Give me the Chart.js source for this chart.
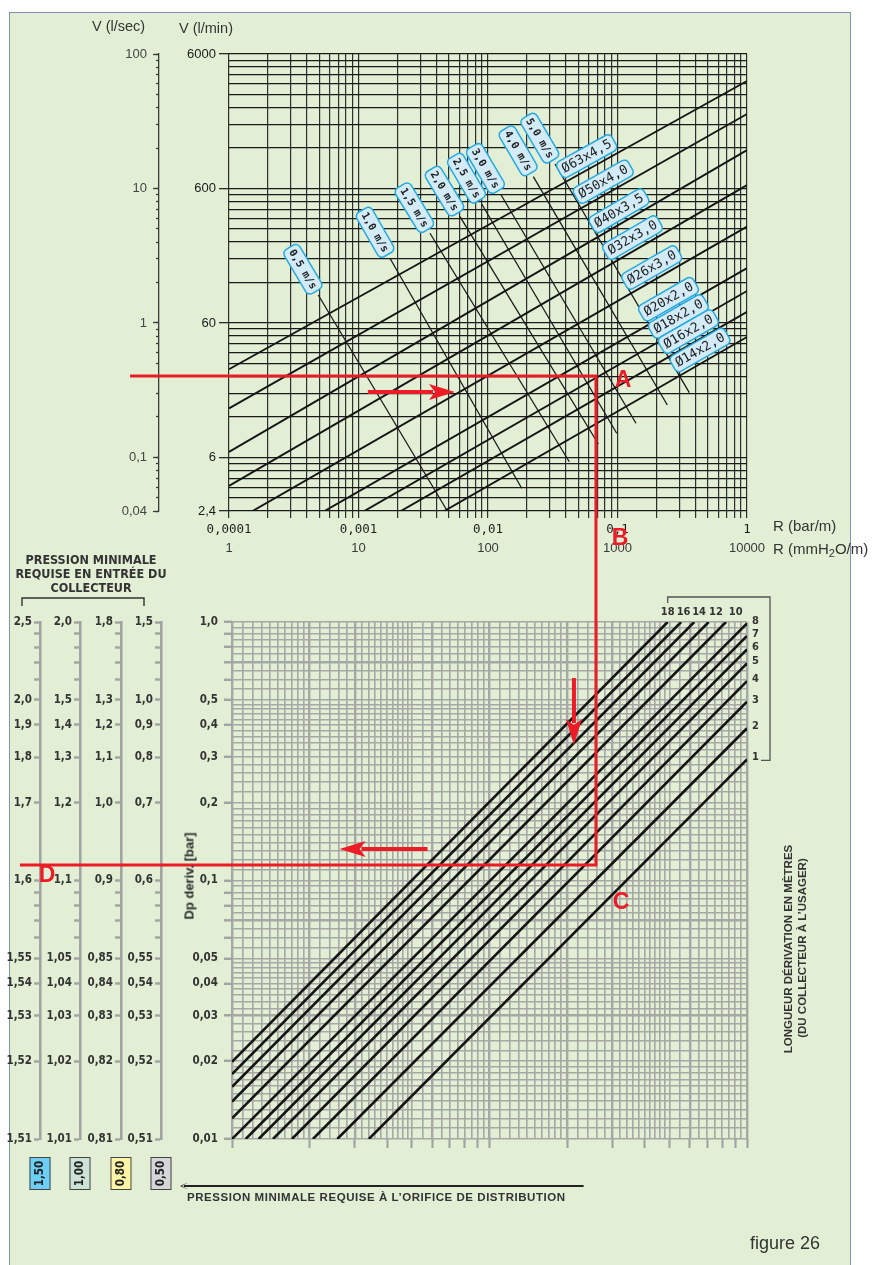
<!DOCTYPE html>
<html lang="fr">
<head>
<meta charset="utf-8">
<title>figure 26</title>
<script src="https://cdn.jsdelivr.net/npm/chart.js@4.4.1/dist/chart.umd.min.js"></script>
<style>
  html, body { margin:0; padding:0; background:#ffffff; }
  body { position:relative; width:877px; height:1265px; overflow:hidden;
         font-family:"Liberation Sans", Arial, sans-serif; color:#2b2b2b; }
  #panel { position:absolute; left:9px; top:12px; width:840px; height:1300px;
           background:#e2efd5; border:1.5px solid #7c94b7; border-bottom:none; }
  canvas { position:absolute; left:0; top:0; }
  .t { position:absolute; white-space:nowrap; line-height:1; }
  .b { font-weight:bold; }
  .narrow { font-family:"Liberation Sans Narrow","Arial Narrow","DejaVu Sans Condensed",sans-serif; font-weight:bold; }
  .rot { transform: translate(-50%,-50%) rotate(-90deg); text-align:center; }
  sub { font-size:11px; vertical-align:-3px; line-height:0; }
</style>
</head>
<body>
<div id="panel"></div>
<canvas id="flowChart" width="877" height="1265"></canvas>
<canvas id="branchChart" width="877" height="1265"></canvas>

<div class="t" style="left:92px;top:19px;font-size:14.5px;color:#333;">V (l/sec)</div>
<div class="t" style="left:179px;top:20.5px;font-size:14.5px;color:#333;">V (l/min)</div>
<div class="t" style="left:773px;top:518px;font-size:15px;color:#333;">R (bar/m)</div>
<div class="t" style="left:773px;top:541px;font-size:15px;color:#333;">R (mmH<sub>2</sub>O/m)</div>

<div class="t narrow" style="left:91px;top:553px;font-size:12.5px;line-height:14px;text-align:center;transform:translateX(-50%);color:#333;">PRESSION MINIMALE<br>REQUISE EN ENTRÉE DU<br>COLLECTEUR</div>

<div class="t b rot" style="left:189px;top:876px;font-size:13px;color:#2a2a2a;">Dp deriv. [bar]</div>
<div class="t b rot" style="left:789px;top:949px;font-size:11.5px;color:#333;">LONGUEUR DÉRIVATION EN MÈTRES</div>
<div class="t b rot" style="left:803px;top:948px;font-size:11.5px;color:#333;">(DU COLLECTEUR À L’USAGER)</div>

<div class="t b" style="left:187px;top:1192px;font-size:11.5px;letter-spacing:0.55px;color:#333;">PRESSION MINIMALE REQUISE À L’ORIFICE DE DISTRIBUTION</div>
<div class="t" style="left:750px;top:1234px;font-size:18px;color:#333;">figure 26</div>

<script>
// ---------- Pipe friction chart: flow V vs. unit pressure loss R ----------
// Pipe sizes, flow in l/s read at R = 0.0001 bar/m and at R = 1 bar/m
const pipeNames      = ['Ø63x4,5', 'Ø50x4,0', 'Ø40x3,5', 'Ø32x3,0', 'Ø26x3,0', 'Ø20x2,0', 'Ø18x2,0', 'Ø16x2,0', 'Ø14x2,0'];
const pipeFlowAtRmin = [0.453, 0.232, 0.110, 0.0614, 0.0317, 0.0156, 0.01055, 0.00735, 0.0048];
const pipeFlowAtRmax = [63.0, 35.8, 19.3, 10.6, 5.20, 2.56, 1.73, 1.21, 0.787];
const pipeRange      = [0.0001, 1];
// R value (bar/m) where each pipe name tag sits
const pipeTagAt      = [0.0578, 0.0776, 0.1027, 0.1306, 0.1837, 0.2476, 0.2949, 0.3524, 0.4335];

// Water velocity lines: start / end points (R in bar/m, V in l/s)
const velocityNames = ['0,5 m/s', '1,0 m/s', '1,5 m/s', '2,0 m/s', '2,5 m/s', '3,0 m/s', '4,0 m/s', '5,0 m/s'];
const velStartR = [0.000489, 0.00175, 0.003565, 0.00608, 0.00894, 0.01253, 0.02238, 0.03292];
const velStartQ = [1.615, 3.027, 4.645, 6.17, 7.67, 9.06, 12.24, 15.21];
const velEndR   = [0.0048, 0.0182, 0.04244, 0.0711, 0.0986, 0.1389, 0.2425, 0.3584];
const velEndQ   = [0.0407, 0.0590, 0.0930, 0.126, 0.1513, 0.1796, 0.2457, 0.3032];

const flowTicksMajor       = [0.04, 0.1, 1, 10, 100];          // l/s (x60 = l/min)
const resistanceTicksMajor = [0.0001, 0.001, 0.01, 0.1, 1];    // bar/m (x10000 = mmH2O/m)

// ---------- Branch pressure drop chart ----------
// Branch length (m); each line given by two points (flow, Dp in bar)
const branchLengths = [18, 16, 14, 12, 10, 8, 7, 6, 5, 4, 3, 2, 1];
const branchStartQ  = [1, 1, 1, 1, 1, 1, 1.130, 1.269, 1.443, 1.709, 2.062, 2.564, 3.401];
const branchStartDp = [0.0199, 0.01784, 0.01593, 0.01394, 0.01202, 0.01, 0.01, 0.01, 0.01, 0.01, 0.01, 0.01, 0.01];
const branchEndQ    = [49.2, 55.5, 62.4, 71.0, 82.9, 100, 100, 100, 100, 100, 100, 100, 100];
const branchEndDp   = [1, 1, 1, 1, 1, 0.9885, 0.883, 0.784, 0.692, 0.591, 0.4916, 0.388, 0.2943];

const dpTicksMajor = [1, 0.5, 0.4, 0.3, 0.2, 0.1, 0.05, 0.04, 0.03, 0.02, 0.01];
const dpTicksMinor = [0.9, 0.8, 0.7, 0.6, 0.09, 0.08, 0.07, 0.06];
// Minimum pressure at the distribution outlet (bar) for each inlet scale
const outletPressures = [1.5, 1.0, 0.8, 0.5];
const outletColors    = ['#6dcff6', '#cde3d8', '#fff4a6', '#d5d6d8'];

// Worked example traced in red
const exampleFlow = 0.404;   // l/s
const exampleR    = 0.0682;  // bar/m
const exampleDp   = 0.1148;  // bar

// ---------- helpers ----------
const NARROW = '"Liberation Sans Narrow","Arial Narrow","DejaVu Sans Condensed",sans-serif';
const SANS   = '"Liberation Sans", Arial, sans-serif';
const MONO   = '"DejaVu Sans Mono","Liberation Mono",monospace';
const RED    = '#ec1c26';

const comma = v => String(v).replace('.', ',');
const near  = (a, b) => Math.abs(a - b) <= Math.abs(b) * 1e-6;
const inList = (v, list) => list.some(t => near(v, t));

// k x 10^n subdivisions (k = 1..9) inside [min, max]
function logGrid(min, max) {
  const out = [];
  for (let e = Math.floor(Math.log10(min)); e <= Math.ceil(Math.log10(max)); e++) {
    for (let k = 1; k <= 9; k++) {
      const v = parseFloat((k * Math.pow(10, e)).toPrecision(4));
      if (v >= min * 0.9999 && v <= max * 1.0001 && !out.some(o => near(o, v))) out.push(v);
    }
  }
  return out;
}
// finer subdivisions for the millimetre-style grid
function denseGrid(min, max) {
  const out = [];
  const steps = [[1, 2, 0.1], [2, 5, 0.2], [5, 10, 0.5]];
  for (let e = Math.floor(Math.log10(min)); e <= Math.ceil(Math.log10(max)); e++) {
    const base = Math.pow(10, e);
    for (const [a, b, s] of steps) {
      for (let k = a; k < b - 1e-9; k += s) {
        const v = parseFloat((k * base).toPrecision(4));
        if (v >= min * 0.9999 && v <= max * 1.0001 && !out.some(o => near(o, v))) out.push(v);
      }
    }
  }
  return out;
}
const asTicks = list => s => { s.ticks = list.map(v => ({ value: v })); };
const mantissa = v => v / Math.pow(10, Math.floor(Math.log10(v) + 1e-9));

function roundRect(ctx, x, y, w, h, r) {
  ctx.beginPath();
  ctx.moveTo(x + r, y);
  ctx.arcTo(x + w, y, x + w, y + h, r);
  ctx.arcTo(x + w, y + h, x, y + h, r);
  ctx.arcTo(x, y + h, x, y, r);
  ctx.arcTo(x, y, x + w, y, r);
  ctx.closePath();
}
function drawTag(ctx, cx, cy, angle, text, font, h, pad) {
  ctx.save();
  ctx.translate(cx, cy);
  ctx.rotate(angle);
  ctx.font = font;
  const w = ctx.measureText(text).width + pad;
  roundRect(ctx, -w / 2, -h / 2, w, h, 5);
  ctx.fillStyle = '#d2ebf6';
  ctx.fill();
  ctx.lineWidth = 1.5;
  ctx.strokeStyle = '#26a9e0';
  ctx.stroke();
  ctx.fillStyle = '#1d1d1d';
  ctx.textAlign = 'center';
  ctx.textBaseline = 'middle';
  ctx.fillText(text, 0, 0.5);
  ctx.restore();
}
function drawArrow(ctx, x0, y0, x1, y1, color, width, head, half) {
  const a = Math.atan2(y1 - y0, x1 - x0), c = Math.cos(a), s = Math.sin(a);
  ctx.save();
  ctx.strokeStyle = color; ctx.fillStyle = color; ctx.lineWidth = width;
  ctx.beginPath();
  ctx.moveTo(x0, y0);
  ctx.lineTo(x1 - (head - 4) * c, y1 - (head - 4) * s);
  ctx.stroke();
  ctx.beginPath();
  ctx.moveTo(x1, y1);
  ctx.lineTo(x1 - head * c - half * s, y1 - head * s + half * c);
  ctx.lineTo(x1 - (head - 6) * c, y1 - (head - 6) * s);
  ctx.lineTo(x1 - head * c + half * s, y1 - head * s - half * c);
  ctx.closePath();
  ctx.fill();
  ctx.restore();
}

// ---------- upper chart ----------
const flowGrid = logGrid(0.04, 100);
const rGrid    = logGrid(0.0001, 1);

const pipeDatasets = pipeNames.map((name, i) => ({
  label: name,
  data: [{ x: pipeRange[0], y: pipeFlowAtRmin[i] }, { x: pipeRange[1], y: pipeFlowAtRmax[i] }],
  borderColor: '#151515', borderWidth: 1.9, pointRadius: 0, tension: 0
}));
const velocityDatasets = velocityNames.map((name, i) => ({
  label: name,
  data: [{ x: velStartR[i], y: velStartQ[i] }, { x: velEndR[i], y: velEndQ[i] }],
  borderColor: '#1a1a1a', borderWidth: 1.3, pointRadius: 0, tension: 0
}));

const tagPlugin = {
  id: 'lineTags',
  afterDatasetsDraw(chart) {
    const { ctx, scales: { x, y } } = chart;
    pipeNames.forEach((name, i) => {
      const x0 = x.getPixelForValue(pipeRange[0]), y0 = y.getPixelForValue(pipeFlowAtRmin[i]);
      const x1 = x.getPixelForValue(pipeRange[1]), y1 = y.getPixelForValue(pipeFlowAtRmax[i]);
      const px = x.getPixelForValue(pipeTagAt[i]);
      const py = y0 + (y1 - y0) * (px - x0) / (x1 - x0);
      drawTag(ctx, px, py - 14, Math.atan2(y1 - y0, x1 - x0), name, '13px ' + MONO, 18, 8);
    });
    velocityNames.forEach((name, i) => {
      const sx = x.getPixelForValue(velStartR[i]), sy = y.getPixelForValue(velStartQ[i]);
      const ex = x.getPixelForValue(velEndR[i]),   ey = y.getPixelForValue(velEndQ[i]);
      const len = Math.hypot(ex - sx, ey - sy), dx = (ex - sx) / len, dy = (ey - sy) / len;
      drawTag(ctx, sx - 30 * dx, sy - 30 * dy, Math.atan2(dy, dx), name, 'bold 10.5px ' + MONO, 18, 7);
    });
  }
};

const flowChart = new Chart(document.getElementById('flowChart'), {
  type: 'line',
  data: { datasets: [...pipeDatasets, ...velocityDatasets] },
  options: {
    responsive: false, animation: false, events: [], devicePixelRatio: 1,
    layout: { padding: { left: 0, top: 54, right: 130, bottom: 710 } },
    plugins: { legend: { display: false }, tooltip: { enabled: false } },
    scales: {
      x: {
        type: 'logarithmic', position: 'bottom', min: 0.0001, max: 1, weight: 0,
        afterBuildTicks: asTicks(rGrid),
        afterFit: s => { s.height = 24; },
        grid: { color: '#2e2e2e', lineWidth: 1.2, drawTicks: true, tickLength: 7, tickColor: '#2e2e2e', tickWidth: 1.2 },
        border: { display: false },
        ticks: { autoSkip: false, minRotation: 0, maxRotation: 0, padding: 4, color: '#1e1e1e',
                 font: { family: MONO, size: 12.5 },
                 callback: v => inList(v, resistanceTicksMajor) ? comma(v) : '' }
      },
      x2: {
        type: 'logarithmic', position: 'bottom', min: 0.0001, max: 1, weight: 1,
        afterBuildTicks: asTicks(resistanceTicksMajor),
        afterFit: s => { s.height = 20; },
        grid: { display: false, drawOnChartArea: false, drawTicks: false },
        border: { display: false },
        ticks: { autoSkip: false, minRotation: 0, maxRotation: 0, padding: 6, color: '#3a3a3a',
                 font: { family: SANS, size: 13 },
                 callback: v => String(Math.round(v * 10000)) }
      },
      yLs: {
        type: 'logarithmic', position: 'left', min: 0.04, max: 100, weight: 3,
        afterBuildTicks: asTicks(flowTicksMajor),
        afterFit: s => { s.width = 159; },
        grid: { drawOnChartArea: false, drawTicks: true, tickLength: 6, tickColor: '#3a3a3a', tickWidth: 1.3 },
        border: { display: true, color: '#3a3a3a', width: 1.3 },
        ticks: { autoSkip: false, padding: 6, color: '#444', font: { family: SANS, size: 13 },
                 callback: v => comma(v) }
      },
      yLsMinor: {
        type: 'logarithmic', position: 'left', min: 0.04, max: 100, weight: 2,
        afterBuildTicks: asTicks(flowGrid),
        afterFit: s => { s.width = 0; },
        grid: { drawOnChartArea: false, drawTicks: true, tickLength: 3, tickColor: '#3a3a3a', tickWidth: 1.3 },
        border: { display: false },
        ticks: { display: false, autoSkip: false }
      },
      y: {
        type: 'logarithmic', position: 'left', min: 0.04, max: 100, weight: 1,
        afterBuildTicks: asTicks(flowGrid),
        afterFit: s => { s.width = 70; },
        grid: { color: '#1a1a1a', lineWidth: 1.3, drawTicks: true, tickLength: 10, tickWidth: 1.3,
                tickColor: c => inList(c.tick.value, flowTicksMajor) ? '#2a2a2a' : 'rgba(0,0,0,0)' },
        border: { display: false },
        ticks: { autoSkip: false, padding: 3, color: '#1a1a1a', font: { family: SANS, size: 13 },
                 callback: v => inList(v, flowTicksMajor) ? comma(parseFloat((v * 60).toPrecision(6))) : '' }
      }
    }
  },
  plugins: [tagPlugin]
});

// ---------- lower chart ----------
const dpGrid   = denseGrid(0.01, 1);
const qGrid    = denseGrid(1, 100);
const qMarks   = logGrid(1, 100);
const dpMarked = [...dpTicksMajor, ...dpTicksMinor];
const GRID_GRAY = '#a6a8a5';

function outletAxis(base, weight, width) {
  return {
    type: 'logarithmic', position: 'left', min: 0.01, max: 1, weight,
    afterBuildTicks: asTicks(dpMarked),
    afterFit: s => { s.width = width; },
    grid: { drawOnChartArea: false, drawTicks: true, tickLength: 6, tickColor: '#a2a3a2', tickWidth: 2.4 },
    border: { display: true, color: '#a2a3a2', width: 2.6 },
    ticks: { autoSkip: false, padding: 2, color: '#333',
             font: { family: NARROW, size: 11.5, weight: 'bold' },
             callback: v => inList(v, dpTicksMajor) ? comma((base + v).toFixed(v < 0.099 ? 2 : 1)) : '' }
  };
}

const branchDatasets = branchLengths.map((L, i) => ({
  label: L + ' m',
  data: [{ x: branchStartQ[i], y: branchStartDp[i] }, { x: branchEndQ[i], y: branchEndDp[i] }],
  borderColor: '#141414', borderWidth: 2.6, pointRadius: 0, tension: 0
}));

const notesPlugin = {
  id: 'notes',
  afterDraw(chart) {
    const { ctx, chartArea: area, scales } = chart;
    const { x, y } = scales;
    ctx.save();

    // branch length numbers
    ctx.font = 'bold 11px ' + NARROW;
    ctx.fillStyle = '#333';
    ctx.textBaseline = 'middle';
    let firstTopX = null, lastRightY = null;
    branchLengths.forEach((L, i) => {
      const ex = x.getPixelForValue(branchEndQ[i]), ey = y.getPixelForValue(branchEndDp[i]);
      if (branchEndQ[i] < 99) {
        const lx = ex + (18 - L) * 1.2;
        ctx.textAlign = 'center';
        ctx.fillText(String(L), lx, area.top - 9.5);
        if (firstTopX === null) firstTopX = lx;
      } else {
        ctx.textAlign = 'left';
        ctx.fillText(String(L), area.right + 5, ey - 2);
        lastRightY = ey - 2;
      }
    });
    // bracket grouping the length numbers
    ctx.strokeStyle = '#555'; ctx.lineWidth = 1.3;
    ctx.beginPath();
    ctx.moveTo(firstTopX, area.top - 19);
    ctx.lineTo(firstTopX, area.top - 25);
    ctx.lineTo(area.right + 23, area.top - 25);
    ctx.lineTo(area.right + 23, lastRightY + 3);
    ctx.lineTo(area.right + 14, lastRightY + 3);
    ctx.stroke();

    // bracket over the inlet pressure scales
    const s15 = scales.yP15, s05 = scales.yP05;
    ctx.strokeStyle = '#333'; ctx.lineWidth = 1.4;
    ctx.beginPath();
    ctx.moveTo(s15.left + 22, area.top - 16);
    ctx.lineTo(s15.left + 22, area.top - 24);
    ctx.lineTo(s05.right - 17, area.top - 24);
    ctx.lineTo(s05.right - 17, area.top - 16);
    ctx.stroke();

    // outlet pressure boxes under each scale
    ['yP15', 'yP10', 'yP08', 'yP05'].forEach((id, i) => {
      const cx = scales[id].right, top = area.bottom + 18, w = 21, h = 33;
      ctx.fillStyle = outletColors[i];
      ctx.fillRect(cx - w / 2, top, w, h);
      ctx.strokeStyle = '#444'; ctx.lineWidth = 1;
      ctx.strokeRect(cx - w / 2 + 0.5, top + 0.5, w - 1, h - 1);
      ctx.save();
      ctx.translate(cx, top + h / 2);
      ctx.rotate(-Math.PI / 2);
      ctx.font = 'bold 11.5px ' + NARROW;
      ctx.fillStyle = '#222'; ctx.textAlign = 'center'; ctx.textBaseline = 'middle';
      ctx.fillText(outletPressures[i].toFixed(2).replace('.', ','), 0, 0.5);
      ctx.restore();
    });

    // arrow under the chart pointing to the outlet pressures
    drawArrow(ctx, x.getPixelForValue(23.2), area.bottom + 47, area.left - 52, area.bottom + 47, '#222', 2, 8, 3.5);

    // worked example
    const fx = flowChart.scales.x, fy = flowChart.scales.y;
    const xR = fx.getPixelForValue(exampleR);
    const yQ = fy.getPixelForValue(exampleFlow);
    const yD = y.getPixelForValue(exampleDp);
    ctx.strokeStyle = RED; ctx.lineWidth = 3; ctx.lineJoin = 'miter';
    ctx.beginPath();
    ctx.moveTo(flowChart.chartArea.left - 99, yQ);
    ctx.lineTo(xR, yQ);
    ctx.lineTo(xR, yD);
    ctx.lineTo(s15.left + 20, yD);
    ctx.stroke();

    drawArrow(ctx, fx.getPixelForValue(0.00118), fy.getPixelForValue(0.307),
                   fx.getPixelForValue(0.00556), fy.getPixelForValue(0.307), RED, 4, 26, 8);
    drawArrow(ctx, fx.getPixelForValue(0.0461), y.getPixelForValue(0.607),
                   fx.getPixelForValue(0.0461), y.getPixelForValue(0.334), RED, 4, 26, 8);
    drawArrow(ctx, x.getPixelForValue(5.745), y.getPixelForValue(0.1323),
                   x.getPixelForValue(2.618), y.getPixelForValue(0.1323), RED, 4, 26, 8);

    ctx.font = 'bold 23px ' + SANS;
    ctx.fillStyle = RED; ctx.textAlign = 'center'; ctx.textBaseline = 'middle';
    ctx.fillText('A', xR + 27, yQ + 5);
    ctx.fillText('B', xR + 24, flowChart.chartArea.bottom + 28);
    ctx.fillText('C', xR + 25, yD + 38);
    ctx.fillText('D', s15.left + 47, yD + 11);
    ctx.restore();
  }
};

const branchChart = new Chart(document.getElementById('branchChart'), {
  type: 'line',
  data: { datasets: branchDatasets },
  options: {
    responsive: false, animation: false, events: [], devicePixelRatio: 1,
    layout: { padding: { left: 0, top: 622, right: 130, bottom: 116 } },
    plugins: { legend: { display: false }, tooltip: { enabled: false } },
    scales: {
      x: {
        type: 'logarithmic', position: 'bottom', min: 1, max: 100, weight: 0,
        afterBuildTicks: asTicks(qGrid),
        afterFit: s => { s.height = 0; },
        grid: { color: GRID_GRAY, drawTicks: false,
                lineWidth: c => (inList(c.tick.value, qMarks) && [1, 2, 3, 6].some(k => near(mantissa(c.tick.value), k))) ? 2.4 : 1.6 },
        border: { display: false },
        ticks: { display: false, autoSkip: false }
      },
      xT: {
        type: 'logarithmic', position: 'bottom', min: 1, max: 100, weight: 1,
        afterBuildTicks: asTicks(qMarks),
        afterFit: s => { s.height = 10; },
        grid: { drawOnChartArea: false, drawTicks: true, tickLength: 9, tickColor: '#a2a3a2', tickWidth: 2.2 },
        border: { display: false },
        ticks: { display: false, autoSkip: false }
      },
      yP15: outletAxis(outletPressures[0], 6, 40),
      yP10: outletAxis(outletPressures[1], 5, 40),
      yP08: outletAxis(outletPressures[2], 4, 41),
      yP05: outletAxis(outletPressures[3], 3, 40),
      y: {
        type: 'logarithmic', position: 'left', min: 0.01, max: 1, weight: 2,
        afterBuildTicks: asTicks(dpGrid),
        afterFit: s => { s.width = 71; },
        grid: { color: GRID_GRAY, drawTicks: true, tickLength: 8, tickWidth: 2.4,
                lineWidth: c => [0.03, 0.07, 0.7].some(k => near(c.tick.value, k)) ? 2.6 : 1.6,
                tickColor: c => inList(c.tick.value, dpMarked) ? '#a2a3a2' : 'rgba(0,0,0,0)' },
        border: { display: false },
        ticks: { autoSkip: false, padding: 6, color: '#333',
                 font: { family: NARROW, size: 11.5, weight: 'bold' },
                 callback: v => inList(v, dpTicksMajor) ? comma(v.toFixed(v < 0.099 ? 2 : 1)) : '' }
      }
    }
  },
  plugins: [notesPlugin]
});
</script>
</body>
</html>
